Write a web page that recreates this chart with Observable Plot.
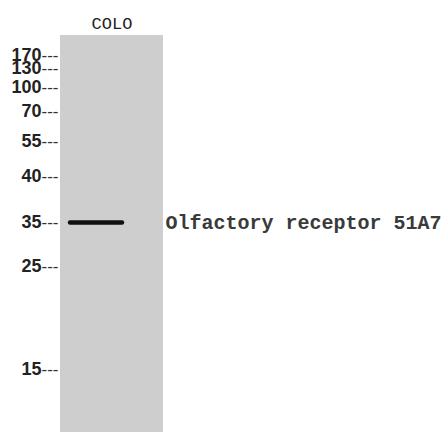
<!DOCTYPE html>
<html><head><meta charset="utf-8">
<script src="https://cdn.jsdelivr.net/npm/d3@7"></script>
<script src="https://cdn.jsdelivr.net/npm/@observablehq/plot@0.6"></script>
<style>
html,body{margin:0;padding:0;background:#fff;}
</style>
</head><body>
<div id="chart"></div>
<script>
// Data
const lanes = ["COLO"];
const markers = [170, 130, 100, 70, 55, 40, 35, 25, 15];
const bands = [{lane: "COLO", kDa: 35, label: "Olfactory receptor 51A7"}];
const laneTop = 250, laneBottom = 10;

// Layout (pixel positions of the marker ladder)
const yDomain = [laneTop, ...markers, laneBottom];
const yRange = [35, 55, 68, 87, 111, 141, 176, 222, 266, 369, 432];

const chart = Plot.plot({
  width: 443,
  height: 433,
  margin: 0,
  style: {background: "#fff", overflow: "visible"},
  x: {type: "band", domain: lanes, range: [59.5, 163], padding: 0, axis: null},
  y: {type: "linear", domain: yDomain, range: yRange, axis: null},
  marks: [
    Plot.barY(lanes, {x: d => d, y1: laneTop, y2: laneBottom, fill: "#cecece"}),
    Plot.tickY(bands, {x: "lane", y: "kDa", stroke: "#111", strokeWidth: 4.5, strokeLinecap: "round", insetLeft: 10, insetRight: 41}),
    Plot.text(markers, {y: d => d, text: d => `${d}`, frameAnchor: "left", dx: 41, textAnchor: "end",
      fontFamily: "Liberation Sans", fontSize: 18, fontWeight: 600, fill: "#222", letterSpacing: -0.8}),
    Plot.text(markers, {y: d => d, text: () => "---", frameAnchor: "left", dx: 41, textAnchor: "start",
      fontFamily: "Liberation Sans", fontSize: 17, fill: "#333", letterSpacing: 0.6}),
    Plot.text(lanes, {x: d => d, text: d => d, frameAnchor: "top", dy: 23.5, lineAnchor: "middle",
      fontFamily: "Liberation Mono", fontSize: 17, fill: "#222"}),
    Plot.text(bands, {y: "kDa", text: "label", frameAnchor: "left", dx: 165, textAnchor: "start",
      fontFamily: "Liberation Mono", fontWeight: "bold", fontSize: 20, fill: "#3a3a3a"})
  ]
});
document.getElementById("chart").appendChild(chart);
</script>
</body></html>
